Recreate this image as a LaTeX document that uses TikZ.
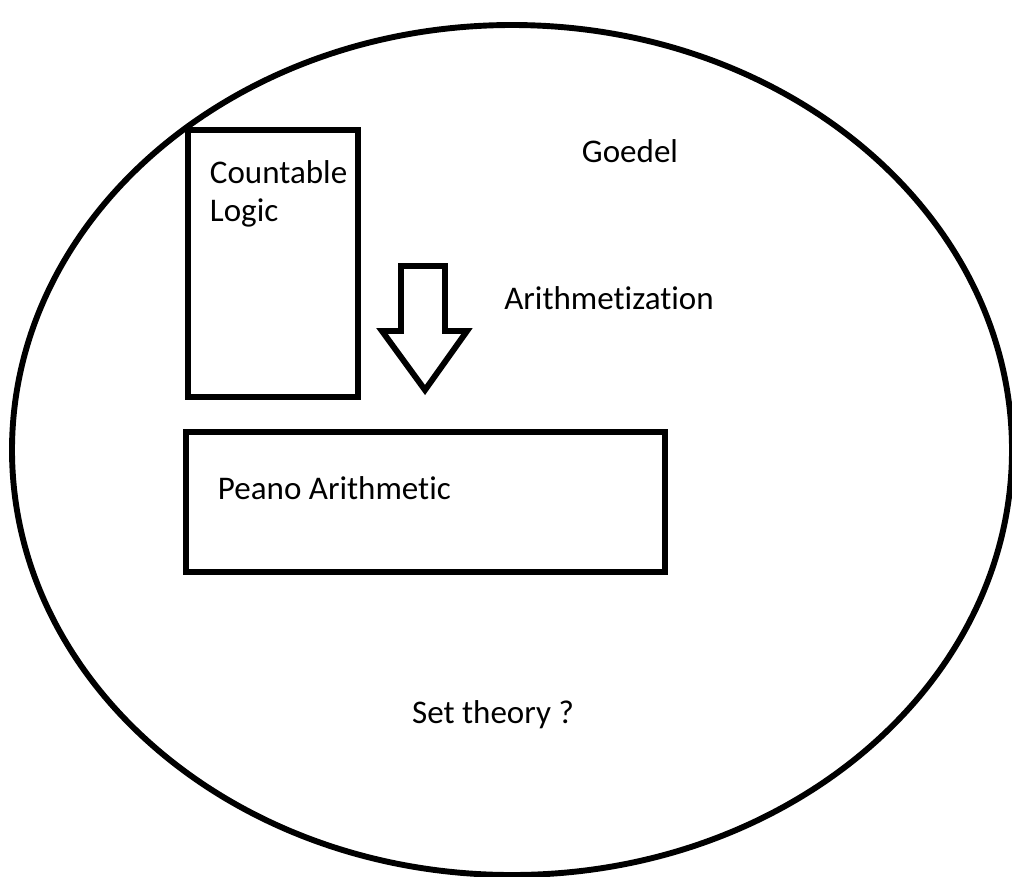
\documentclass[tikz,border=0pt]{standalone}
\usepackage{fontspec}
\setmainfont{Carlito}[Ligatures=NoCommon]
\usetikzlibrary{positioning}

\begin{document}
\begin{tikzpicture}[x=0.025cm,y=-0.025cm,line width=4.2pt,
  box/.style={draw,rectangle,line width=4.2pt,inner sep=0pt},
  label text/.style={font=\fontsize{23.5}{28}\selectfont,inner sep=0pt}]

  \useasboundingbox (0,0) rectangle (1012,876);

  % the outer world
  \draw (512,450) ellipse (500 and 425);

  \node[box,minimum width=4.25cm,minimum height=6.675cm] (logic) at (273,263.5) {};
  \node[box,minimum width=11.975cm,minimum height=3.5cm] (peano) at (425.5,502) {};

  \node[label text,anchor=base west] (countable) at (207,183) {Countable};
  \node[label text,anchor=base west] (logicname) at (207,221) {Logic};
  \node[label text,anchor=base west] (peanoname) at (215,499) {Peano Arithmetic};
  \node[label text,anchor=base] (goedel) at (630,162) {Goedel};
  \node[label text,anchor=base] (arith) at (609,309) {Arithmetization};
  \node[label text,anchor=base] (settheory) at (493,723) {Set theory ?};

  % big hollow arrow
  \draw[line join=miter] (401,266) -- (445,266) -- (445,331) -- (467,331)
    -- (425,390) -- (382,331) -- (401,331) -- cycle;

\end{tikzpicture}
\end{document}
